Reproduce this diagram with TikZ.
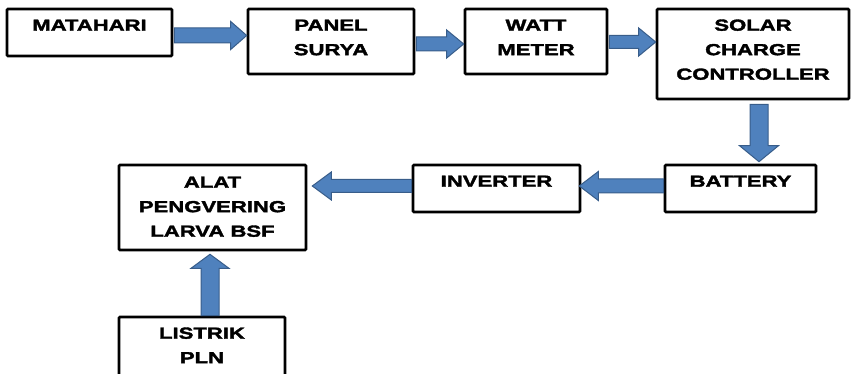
\documentclass[tikz,border=0pt]{standalone}
\usepackage{fontspec}
\newfontfamily\dfont{Liberation Sans}[FakeStretch=1.38,FakeBold=2.2]
\usetikzlibrary{calc}
\definecolor{afill}{RGB}{79,129,189}
\definecolor{aline}{RGB}{56,93,138}
\tikzset{
  boxnode/.style={draw=black, line width=2.6pt, rounded corners=1pt, inner sep=0pt, fill=white},
  lbl/.style={anchor=base, inner sep=0pt, font=\dfont\bfseries\fontsize{16}{24.5}\selectfont},
  barrow/.style={fill=afill, draw=aline, line width=1pt, line join=miter},
}
% horizontal block arrow: #1 tail, #2 tip, #3 shaft half, #4 head half, #5 head length
\newcommand\harrowblk[5]{%
  \draw[barrow] let \p1=(#1), \p2=(#2), \n1={sign(\x2-\x1)} in
    (\x1,\y1+#3) -- (\x2-\n1*#5,\y1+#3) -- (\x2-\n1*#5,\y1+#4) -- (\x2,\y1)
    -- (\x2-\n1*#5,\y1-#4) -- (\x2-\n1*#5,\y1-#3) -- (\x1,\y1-#3) -- cycle;}
\newcommand\varrowblk[5]{%
  \draw[barrow] let \p1=(#1), \p2=(#2), \n1={sign(\y2-\y1)} in
    (\x1+#3,\y1) -- (\x1+#3,\y2-\n1*#5) -- (\x1+#4,\y2-\n1*#5) -- (\x1,\y2)
    -- (\x1-#4,\y2-\n1*#5) -- (\x1-#3,\y2-\n1*#5) -- (\x1-#3,\y1) -- cycle;}
\begin{document}
\begin{tikzpicture}[x=1pt,y=-1pt]
\useasboundingbox (0,0) rectangle (851,374);
% boxes
\node[boxnode, minimum width=165pt, minimum height=47pt] (m) at (89.5,32.5) {};
\node[boxnode, minimum width=166pt, minimum height=65pt] (p) at (331,41.5) {};
\node[boxnode, minimum width=142pt, minimum height=65pt] (w) at (536,41.5) {};
\node[boxnode, minimum width=192pt, minimum height=90pt] (s) at (753,54) {};
\node[boxnode, minimum width=151pt, minimum height=47pt] (b) at (740.5,188.5) {};
\node[boxnode, minimum width=167pt, minimum height=47pt] (i) at (496.5,188.5) {};
\node[boxnode, minimum width=187pt, minimum height=85pt] (a) at (212.5,207.5) {};
\node[boxnode, minimum width=166pt, minimum height=65pt] (l) at (202,349.5) {};
% labels
\node[lbl] (tm) at ([yshift=-23pt]m.north) {MATAHARI};
\node[lbl] (tp) at ([yshift=-23pt]p.north) {\begin{tabular}[t]{@{}c@{}}PANEL\\SURYA\end{tabular}};
\node[lbl] (tw) at ([yshift=-23pt]w.north) {\begin{tabular}[t]{@{}c@{}}WATT\\METER\end{tabular}};
\node[lbl] (ts) at ([yshift=-23pt]s.north) {\begin{tabular}[t]{@{}c@{}}SOLAR\\CHARGE\\CONTROLLER\end{tabular}};
\node[lbl] (tb) at ([yshift=-23pt]b.north) {BATTERY};
\node[lbl] (ti) at ([yshift=-23pt]i.north) {INVERTER};
\node[lbl] (ta) at ([yshift=-24pt]a.north) {\begin{tabular}[t]{@{}c@{}}ALAT\\PENGVERING\\LARVA BSF\end{tabular}};
\node[lbl] (tl) at ([yshift=-23pt]l.north) {\begin{tabular}[t]{@{}c@{}}LISTRIK\\PLN\end{tabular}};
% arrow endpoints
\coordinate (a1s) at ([xshift=1pt]m.east |- 0,35.5);
\coordinate (a1e) at (p.west |- 0,35.5);
\coordinate (a2s) at ([xshift=1pt]p.east |- 0,44);
\coordinate (a2e) at (w.west |- 0,44);
\coordinate (a3s) at ([xshift=1pt]w.east |- 0,42);
\coordinate (a3e) at (s.west |- 0,42);
\coordinate (a4s) at ([yshift=-4pt]s.south -| 759,0);
\coordinate (a4e) at ([yshift=2pt]b.north -| 759,0);
\coordinate (a5s) at (b.west |- 0,186);
\coordinate (a5e) at ([xshift=-2pt]i.east |- 0,186);
\coordinate (a6s) at (i.west |- 0,186);
\coordinate (a6e) at ([xshift=5pt]a.east |- 0,186);
\coordinate (a7s) at (l.north -| 210,0);
\coordinate (a7e) at ([yshift=-3pt]a.south -| 210,0);
% arrows
\harrowblk{a1s}{a1e}{7.5pt}{14pt}{16pt}
\harrowblk{a2s}{a2e}{7pt}{14pt}{17pt}
\harrowblk{a3s}{a3e}{6.5pt}{14pt}{17pt}
\varrowblk{a4s}{a4e}{9pt}{19.5pt}{16pt}
\harrowblk{a5s}{a5e}{7pt}{14.5pt}{19pt}
\harrowblk{a6s}{a6e}{6.5pt}{14pt}{19pt}
\varrowblk{a7s}{a7e}{9pt}{19pt}{14pt}
\end{tikzpicture}
\end{document}
